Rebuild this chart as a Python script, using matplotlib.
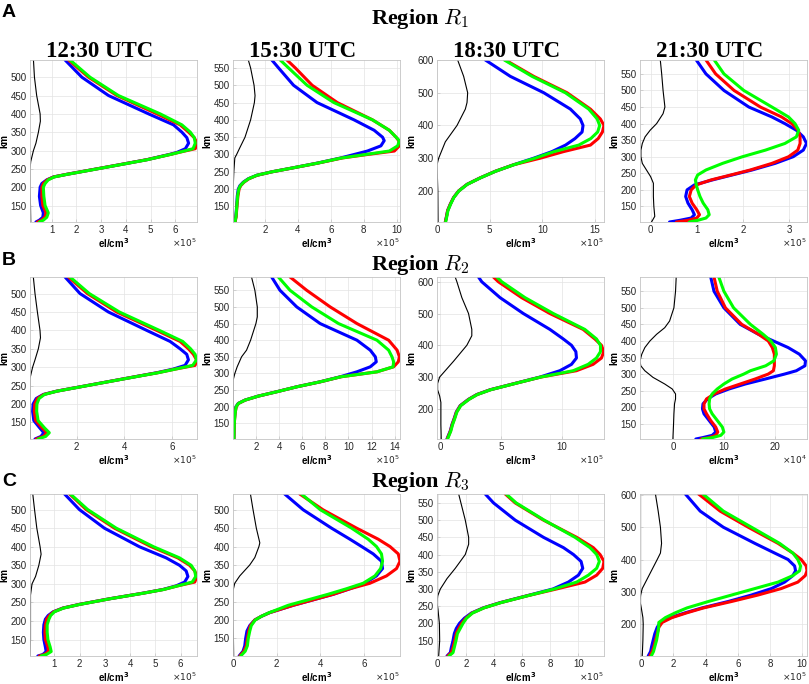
"""
Electron density profiles (el/cm^3 vs altitude) for regions R1-R3 at four UTC times.
"""
import matplotlib
matplotlib.use("Agg")
import matplotlib.pyplot as plt
from matplotlib.ticker import MultipleLocator

plt.rcParams['font.family'] = ['Liberation Sans', 'DejaVu Sans']

times = ['12:30 UTC', '15:30 UTC', '18:30 UTC', '21:30 UTC']
regions = ['Region $R_1$', 'Region $R_2$', 'Region $R_3$']
letters = ['A', 'B', 'C']

# ---- Region R1 ----
alt_a1 = [105, 110, 118, 130, 150, 175, 200, 210, 220, 228, 235, 245, 260, 275, 290, 295, 305, 320, 335, 350, 370, 400, 450, 500, 547]
blue_a1 = [0.36, 0.5, 0.64, 0.66, 0.55, 0.5, 0.53, 0.6, 0.8, 1.07, 1.6, 2.42, 3.64, 4.85, 5.8, 6.07, 6.41, 6.54, 6.47, 6.27, 5.93, 4.92, 3.30, 2.22, 1.54]
red_a1 = [0.42, 0.58, 0.72, 0.77, 0.64, 0.6, 0.6, 0.66, 0.82, 1.08, 1.6, 2.42, 3.64, 4.85, 5.85, 6.15, 6.81, 6.88, 6.77, 6.54, 6.2, 5.26, 3.64, 2.49, 1.68]
green_a1 = [0.5, 0.66, 0.8, 0.86, 0.73, 0.68, 0.66, 0.73, 0.86, 1.1, 1.62, 2.44, 3.66, 4.87, 5.85, 6.15, 6.72, 6.81, 6.77, 6.61, 6.27, 5.39, 3.70, 2.55, 1.74]
kalt_a1 = [105, 150, 200, 250, 270, 300, 320, 350, 380, 400, 450, 500, 547]
black_a1 = [0.15, 0.14, 0.12, 0.12, 0.15, 0.26, 0.36, 0.46, 0.54, 0.53, 0.39, 0.30, 0.26]

alt_a2 = [105, 120, 150, 180, 200, 210, 220, 230, 240, 250, 260, 275, 290, 300, 310, 325, 340, 350, 370, 400, 450, 500, 550, 573]
blue_a2 = [0.16, 0.22, 0.27, 0.31, 0.37, 0.47, 0.67, 0.98, 1.49, 2.41, 3.53, 5.16, 6.59, 7.41, 8.22, 9.04, 9.24, 9.14, 8.63, 7.41, 5.16, 3.73, 2.82, 2.41]
red_a2 = [0.18, 0.24, 0.29, 0.35, 0.42, 0.52, 0.72, 1.02, 1.52, 2.43, 3.55, 5.2, 6.7, 8.22, 9.86, 10.16, 10.12, 9.96, 9.55, 8.53, 6.39, 4.86, 3.84, 3.33]
green_a2 = [0.17, 0.23, 0.28, 0.33, 0.40, 0.50, 0.70, 1.0, 1.5, 2.42, 3.54, 5.18, 6.65, 8.1, 9.55, 10.06, 10.16, 9.96, 9.55, 8.53, 6.18, 4.55, 3.43, 2.92]
kalt_a2 = [105, 150, 200, 250, 290, 300, 320, 350, 400, 450, 470, 500, 550, 573]
black_a2 = [0.06, 0.06, 0.06, 0.10, 0.16, 0.27, 0.47, 0.78, 1.12, 1.35, 1.39, 1.33, 1.12, 0.98]

alt_a3 = [105, 120, 140, 160, 180, 200, 220, 240, 260, 280, 300, 320, 340, 360, 380, 400, 420, 450, 500, 550, 600]
blue_a3 = [0.79, 0.89, 1.01, 1.27, 1.58, 2.06, 2.85, 4.11, 5.54, 7.28, 9.18, 10.9, 12.2, 13.1, 13.77, 13.86, 13.6, 12.66, 10.13, 6.96, 4.59]
red_a3 = [0.79, 0.89, 1.01, 1.27, 1.58, 2.06, 2.85, 4.11, 5.54, 7.28, 9.8, 12.0, 14.56, 15.3, 15.7, 15.85, 15.5, 14.56, 12.34, 9.18, 6.49]
green_a3 = [0.82, 0.92, 1.04, 1.3, 1.6, 2.08, 2.87, 4.13, 5.56, 7.3, 9.3, 11.1, 13.45, 14.6, 15.25, 15.44, 15.2, 14.4, 12.18, 9.02, 6.39]
kalt_a3 = [105, 150, 200, 250, 280, 300, 350, 400, 450, 470, 500, 550, 600]
black_a3 = [0.1, 0.09, 0.08, 0.03, 0.0, 0.16, 0.79, 1.9, 2.69, 2.85, 2.91, 2.53, 1.96]

alt_a4 = [103, 108, 115, 125, 140, 160, 180, 200, 215, 230, 245, 260, 280, 300, 320, 340, 360, 380, 400, 420, 450, 500, 550, 592]
blue_a4 = [0.41, 0.63, 0.88, 0.95, 0.9, 0.81, 0.76, 0.79, 0.95, 1.34, 1.77, 2.2, 2.7, 3.09, 3.31, 3.38, 3.31, 3.16, 2.91, 2.63, 2.13, 1.59, 1.2, 0.99]
red_a4 = [0.56, 0.81, 1.0, 1.06, 1.0, 0.9, 0.84, 0.88, 0.99, 1.31, 1.74, 2.16, 2.63, 2.99, 3.19, 3.24, 3.24, 3.2, 3.06, 2.84, 2.38, 1.81, 1.41, 1.2]
green_a4 = [0.84, 1.02, 1.2, 1.27, 1.24, 1.14, 1.07, 1.02, 0.99, 0.97, 1.02, 1.2, 1.56, 1.99, 2.49, 2.91, 3.16, 3.21, 3.13, 2.99, 2.63, 2.02, 1.59, 1.38]
kalt_a4 = [103, 120, 150, 180, 200, 220, 240, 260, 280, 300, 320, 340, 360, 380, 400, 430, 450, 500, 550, 592]
black_a4 = [0.02, 0.09, 0.07, 0.06, 0.06, 0.06, 0.0, -0.09, -0.18, -0.21, -0.21, -0.18, -0.12, -0.01, 0.13, 0.27, 0.31, 0.27, 0.24, 0.21]

# ---- Region R2 ----
alt_b1 = [105, 112, 122, 135, 155, 180, 200, 215, 226, 235, 245, 260, 275, 285, 295, 305, 320, 335, 350, 370, 400, 450, 500, 545]
blue_b1 = [0.25, 0.5, 0.62, 0.45, 0.2, 0.15, 0.17, 0.3, 0.6, 1.16, 2.0, 3.26, 4.52, 5.36, 6.06, 6.55, 6.69, 6.62, 6.34, 5.92, 4.94, 3.33, 2.14, 1.51]
red_b1 = [0.3, 0.6, 0.75, 0.55, 0.28, 0.22, 0.24, 0.35, 0.62, 1.17, 2.01, 3.27, 4.53, 5.4, 6.15, 6.97, 7.03, 6.9, 6.69, 6.34, 5.36, 3.68, 2.45, 1.65]
green_b1 = [0.38, 0.7, 0.85, 0.65, 0.38, 0.32, 0.33, 0.42, 0.65, 1.18, 2.02, 3.28, 4.55, 5.42, 6.15, 6.87, 7.03, 6.97, 6.78, 6.45, 5.47, 3.79, 2.53, 1.72]
kalt_b1 = [105, 150, 200, 270, 300, 320, 350, 380, 400, 450, 500, 545]
black_b1 = [0.06, 0.05, 0.04, 0.04, 0.15, 0.25, 0.39, 0.48, 0.46, 0.35, 0.25, 0.18]

alt_b2 = [103, 150, 180, 200, 210, 220, 232, 245, 260, 275, 290, 305, 320, 335, 350, 370, 400, 450, 500, 550, 590]
blue_b2 = [0.09, 0.12, 0.18, 0.27, 0.47, 1.05, 2.2, 3.79, 5.53, 7.55, 9.28, 10.73, 11.88, 12.4, 12.32, 11.88, 10.73, 7.55, 5.53, 4.08, 3.36]
red_b2 = [0.1, 0.13, 0.2, 0.3, 0.5, 1.08, 2.22, 3.8, 5.55, 7.58, 9.35, 12.46, 13.9, 14.3, 14.4, 14.2, 13.47, 10.73, 8.42, 6.39, 4.95]
green_b2 = [0.1, 0.13, 0.2, 0.29, 0.49, 1.07, 2.21, 3.8, 5.55, 7.57, 9.33, 12.46, 13.85, 13.9, 13.76, 13.47, 12.46, 9.14, 6.83, 4.95, 3.94]
kalt_b2 = [103, 200, 280, 300, 320, 350, 370, 400, 450, 470, 500, 550, 590]
black_b2 = [0.02, 0.02, 0.03, 0.18, 0.38, 0.76, 1.19, 1.54, 2.0, 2.12, 2.12, 1.91, 1.62]

alt_b3 = [105, 130, 150, 170, 190, 210, 230, 245, 260, 280, 300, 320, 340, 360, 380, 400, 420, 450, 500, 550, 600, 615]
blue_b3 = [0.55, 0.82, 0.96, 1.15, 1.32, 1.64, 2.33, 3.01, 4.11, 6.16, 8.22, 9.86, 10.82, 11.23, 11.18, 10.82, 10.14, 9.04, 6.85, 4.93, 3.42, 3.15]
red_b3 = [0.57, 0.84, 0.98, 1.17, 1.34, 1.66, 2.35, 3.03, 4.13, 6.18, 8.3, 11.23, 12.6, 13.29, 13.48, 13.29, 12.74, 11.78, 9.04, 6.71, 4.79, 4.38]
green_b3 = [0.6, 0.87, 1.01, 1.2, 1.37, 1.69, 2.38, 3.06, 4.15, 6.2, 8.28, 10.96, 12.19, 12.88, 13.21, 13.21, 12.88, 11.92, 9.32, 6.99, 5.07, 4.66]
kalt_b3 = [105, 150, 200, 220, 240, 260, 280, 300, 320, 350, 400, 430, 450, 500, 550, 600, 615]
black_b3 = [0.08, 0.05, 0.05, 0.05, -0.05, -0.22, -0.22, -0.05, 0.41, 1.1, 2.19, 2.6, 2.6, 2.33, 1.78, 1.37, 1.23]

alt_b4 = [104, 108, 115, 125, 140, 160, 180, 195, 210, 225, 240, 255, 270, 285, 300, 310, 325, 340, 360, 380, 400, 420, 450, 500, 550, 593]
blue_b4 = [4.5, 5.8, 7.7, 8.4, 8.1, 7.1, 6.1, 5.8, 5.9, 6.8, 8.4, 11.0, 14.2, 18.1, 21.9, 24.2, 25.9, 26.0, 24.8, 22.6, 19.7, 16.8, 13.2, 10.0, 8.06, 7.42]
red_b4 = [5.5, 7.1, 8.4, 8.8, 8.4, 7.4, 6.6, 6.1, 6.1, 6.6, 8.1, 10.3, 13.2, 16.1, 18.7, 19.7, 19.9, 19.9, 19.9, 19.5, 18.7, 16.8, 13.5, 10.3, 8.7, 8.06]
green_b4 = [5.8, 7.7, 9.4, 10.0, 9.7, 8.7, 7.7, 7.2, 7.1, 7.2, 7.7, 8.7, 10.0, 11.6, 13.9, 15.2, 18.2, 19.8, 20.3, 20.1, 19.2, 17.7, 15.2, 11.9, 10.0, 9.0]
kalt_b4 = [104, 150, 180, 210, 225, 240, 255, 270, 290, 310, 325, 340, 360, 380, 400, 420, 440, 460, 500, 550, 593]
black_b4 = [0.0, 0.13, 0.2, 0.32, 0.52, 0.52, -0.13, -1.6, -3.9, -5.5, -6.3, -6.45, -6.1, -5.5, -4.5, -3.2, -1.6, -0.65, 0.2, 0.52, 0.65]

# ---- Region R3 ----
alt_c1 = [106, 110, 118, 130, 150, 170, 190, 205, 215, 225, 235, 245, 260, 275, 285, 295, 305, 320, 335, 350, 370, 400, 450, 500, 542]
blue_c1 = [0.34, 0.54, 0.67, 0.64, 0.58, 0.56, 0.58, 0.64, 0.75, 0.95, 1.33, 1.99, 3.18, 4.5, 5.3, 5.83, 6.16, 6.29, 6.22, 5.96, 5.43, 4.37, 2.98, 1.99, 1.4]
red_c1 = [0.4, 0.6, 0.76, 0.74, 0.64, 0.62, 0.64, 0.69, 0.8, 0.97, 1.34, 2.0, 3.19, 4.51, 5.32, 5.9, 6.56, 6.65, 6.56, 6.36, 5.89, 4.84, 3.38, 2.26, 1.6]
green_c1 = [0.47, 0.68, 0.87, 0.83, 0.74, 0.71, 0.71, 0.78, 0.85, 1.0, 1.36, 2.02, 3.2, 4.52, 5.33, 5.9, 6.46, 6.6, 6.56, 6.42, 5.96, 4.93, 3.45, 2.32, 1.63]
kalt_c1 = [106, 150, 200, 270, 300, 320, 350, 380, 400, 450, 500, 542]
black_c1 = [0.03, 0.05, 0.05, 0.05, 0.11, 0.25, 0.38, 0.47, 0.43, 0.3, 0.21, 0.14]

alt_c2 = [102, 115, 130, 150, 170, 185, 200, 210, 220, 230, 240, 255, 270, 285, 300, 320, 340, 360, 380, 400, 420, 450, 500, 543]
blue_c2 = [0.28, 0.46, 0.54, 0.58, 0.64, 0.77, 1.0, 1.3, 1.68, 2.22, 2.76, 3.68, 4.6, 5.36, 6.05, 6.58, 6.86, 6.81, 6.43, 5.9, 5.36, 4.52, 3.22, 2.37]
red_c2 = [0.31, 0.5, 0.61, 0.66, 0.72, 0.8, 1.0, 1.3, 1.68, 2.22, 2.76, 3.68, 4.6, 5.36, 6.28, 7.04, 7.5, 7.66, 7.58, 7.2, 6.66, 5.67, 4.13, 3.06]
green_c2 = [0.35, 0.56, 0.66, 0.7, 0.77, 0.84, 1.02, 1.3, 1.66, 2.1, 2.53, 3.45, 4.36, 5.2, 5.97, 6.51, 6.77, 6.86, 6.81, 6.58, 6.2, 5.44, 4.01, 3.14]
kalt_c2 = [102, 150, 200, 250, 280, 300, 320, 350, 370, 400, 410, 450, 500, 543]
black_c2 = [0.03, 0.02, 0.0, 0.0, 0.0, 0.08, 0.31, 0.77, 1.0, 1.19, 1.23, 1.07, 0.92, 0.8]

alt_c3 = [105, 115, 130, 150, 170, 185, 200, 215, 230, 245, 260, 280, 300, 320, 340, 360, 380, 400, 420, 450, 500, 550, 576]
blue_c3 = [0.66, 0.9, 0.97, 1.09, 1.18, 1.32, 1.55, 1.9, 2.4, 3.24, 4.42, 6.32, 8.2, 9.29, 10.0, 10.31, 10.19, 9.65, 8.94, 7.52, 5.51, 3.97, 3.38]
red_c3 = [0.71, 0.97, 1.09, 1.21, 1.32, 1.49, 1.7, 2.0, 2.45, 3.28, 4.46, 6.36, 8.46, 10.47, 11.3, 11.73, 11.82, 11.54, 11.06, 9.88, 7.52, 5.51, 4.8]
green_c3 = [0.8, 1.09, 1.18, 1.3, 1.4, 1.6, 1.8, 2.05, 2.48, 3.3, 4.48, 6.38, 8.3, 9.88, 10.71, 11.3, 11.49, 11.3, 10.83, 9.76, 7.57, 5.58, 4.87]
kalt_c3 = [105, 150, 200, 240, 260, 280, 300, 330, 360, 400, 430, 450, 500, 550, 576]
black_c3 = [0.07, 0.14, 0.12, 0.02, -0.05, 0.0, 0.19, 0.66, 1.25, 1.96, 2.2, 2.2, 1.96, 1.65, 1.49]

alt_c4 = [101, 115, 130, 150, 170, 190, 205, 220, 235, 250, 270, 290, 310, 330, 350, 365, 380, 400, 420, 450, 500, 550, 603]
blue_c4 = [0.43, 0.58, 0.64, 0.74, 0.84, 0.99, 1.19, 1.81, 2.74, 3.77, 5.41, 6.85, 8.09, 8.91, 9.42, 9.59, 9.53, 9.12, 8.29, 7.06, 5.1, 3.66, 2.74]
red_c4 = [0.53, 0.68, 0.78, 0.88, 0.99, 1.09, 1.3, 1.91, 2.84, 3.87, 5.62, 7.26, 8.7, 9.73, 10.19, 10.3, 10.25, 9.94, 9.42, 8.5, 6.65, 4.9, 3.56]
green_c4 = [0.62, 0.76, 0.84, 0.95, 1.02, 1.08, 1.09, 1.5, 2.12, 2.84, 4.18, 5.62, 7.06, 8.5, 9.42, 9.84, 9.9, 9.73, 9.42, 8.6, 6.85, 5.1, 3.83]
kalt_c4 = [101, 150, 200, 220, 250, 270, 290, 310, 340, 370, 400, 420, 450, 500, 550, 603]
black_c4 = [0.06, 0.1, 0.12, 0.1, 0.0, -0.08, -0.04, 0.06, 0.37, 0.68, 0.99, 1.19, 1.26, 1.19, 1.05, 0.88]

# axis settings per panel: (xlim, ylim, x tick step, y tick step, exponent)
panels = [
    [(alt_a1, blue_a1, red_a1, green_a1, kalt_a1, black_a1, (0.12, 6.88), (105, 547), 1, 50, 5),
     (alt_a2, blue_a2, red_a2, green_a2, kalt_a2, black_a2, (0.05, 10.2), (105, 573), 2, 50, 5),
     (alt_a3, blue_a3, red_a3, green_a3, kalt_a3, black_a3, (0.0, 15.85), (105, 600), 5, 100, 5),
     (alt_a4, blue_a4, red_a4, green_a4, kalt_a4, black_a4, (-0.23, 3.39), (103, 592), 1, 50, 5)],
    [(alt_b1, blue_b1, red_b1, green_b1, kalt_b1, black_b1, (0.04, 7.05), (105, 545), 2, 50, 5),
     (alt_b2, blue_b2, red_b2, green_b2, kalt_b2, black_b2, (0.02, 14.45), (103, 590), 2, 50, 5),
     (alt_b3, blue_b3, red_b3, green_b3, kalt_b3, black_b3, (-0.27, 13.5), (105, 615), 5, 100, 5),
     (alt_b4, blue_b4, red_b4, green_b4, kalt_b4, black_b4, (-6.45, 26.3), (104, 593), 10, 50, 4)],
    [(alt_c1, blue_c1, red_c1, green_c1, kalt_c1, black_c1, (0.03, 6.65), (106, 542), 1, 50, 5),
     (alt_c2, blue_c2, red_c2, green_c2, kalt_c2, black_c2, (0.0, 7.66), (102, 543), 2, 50, 5),
     (alt_c3, blue_c3, red_c3, green_c3, kalt_c3, black_c3, (-0.05, 11.82), (105, 576), 2, 50, 5),
     (alt_c4, blue_c4, red_c4, green_c4, kalt_c4, black_c4, (-0.08, 10.3), (101, 603), 2, 100, 5)],
]

W, H = 809, 684
lefts = [30, 233, 437, 640]
tops = [60, 277, 494]
aw, ah = 167, 162

fig = plt.figure(figsize=(W / 100, H / 100), dpi=100)

for r, row in enumerate(panels):
    for c, p in enumerate(row):
        alt, b, rd, g, kalt, k, xlim, ylim, xs, ys, ex = p
        ax = fig.add_axes([lefts[c] / W, 1 - (tops[r] + ah) / H, aw / W, ah / H])
        ax.plot(k, kalt, color='black', lw=0.8)
        for vals, col in ((b, (0, 0, 1)), (rd, (1, 0, 0)), (g, (0, 1, 0))):
            ax.plot(vals, alt, color=col, lw=2.2, solid_joinstyle='round', solid_capstyle='round')
        ax.set_xlim(*xlim)
        ax.set_ylim(*ylim)
        ax.xaxis.set_major_locator(MultipleLocator(xs))
        ax.yaxis.set_major_locator(MultipleLocator(ys))
        ax.grid(True, color='#e3e3e3', lw=0.5)
        ax.set_axisbelow(True)
        for s in ax.spines.values():
            s.set_color('#c4c4c4')
            s.set_linewidth(0.6)
        ax.tick_params(direction='in', length=2, width=0.5, color='#c4c4c4',
                       labelsize=7, labelcolor='#262626', pad=2.5)
        ax.set_ylabel('km', fontsize=7, fontweight='bold', labelpad=1)
        ax.set_xlabel(r'el/cm$^{\mathbf{3}}$', fontsize=7, fontweight='bold', labelpad=0.5,
                      math_fontfamily='dejavusans')
        ax.text(1.0, -0.09, r'$\times10^{%d}$' % ex, transform=ax.transAxes,
                ha='right', va='top', fontsize=6.5, color='#262626', math_fontfamily='dejavusans')
        if r == 0:
            fig.text((lefts[c] + aw / 2 - 14) / W, 1 - 57 / H, times[c], ha='center', va='baseline',
                     fontsize=16.5, fontweight='bold', family='Liberation Serif')

region_base = [24, 270, 487]
letter_base = [17, 265, 486]
for r in range(3):
    fig.text(420 / W, 1 - region_base[r] / H, regions[r], ha='center', va='baseline', fontsize=16,
             fontweight='bold', family='Liberation Serif', math_fontfamily='cm')
    fig.text(2 / W, 1 - letter_base[r] / H, letters[r], ha='left', va='baseline', fontsize=14,
             fontweight='bold')

fig.savefig('out.png', dpi=100)
